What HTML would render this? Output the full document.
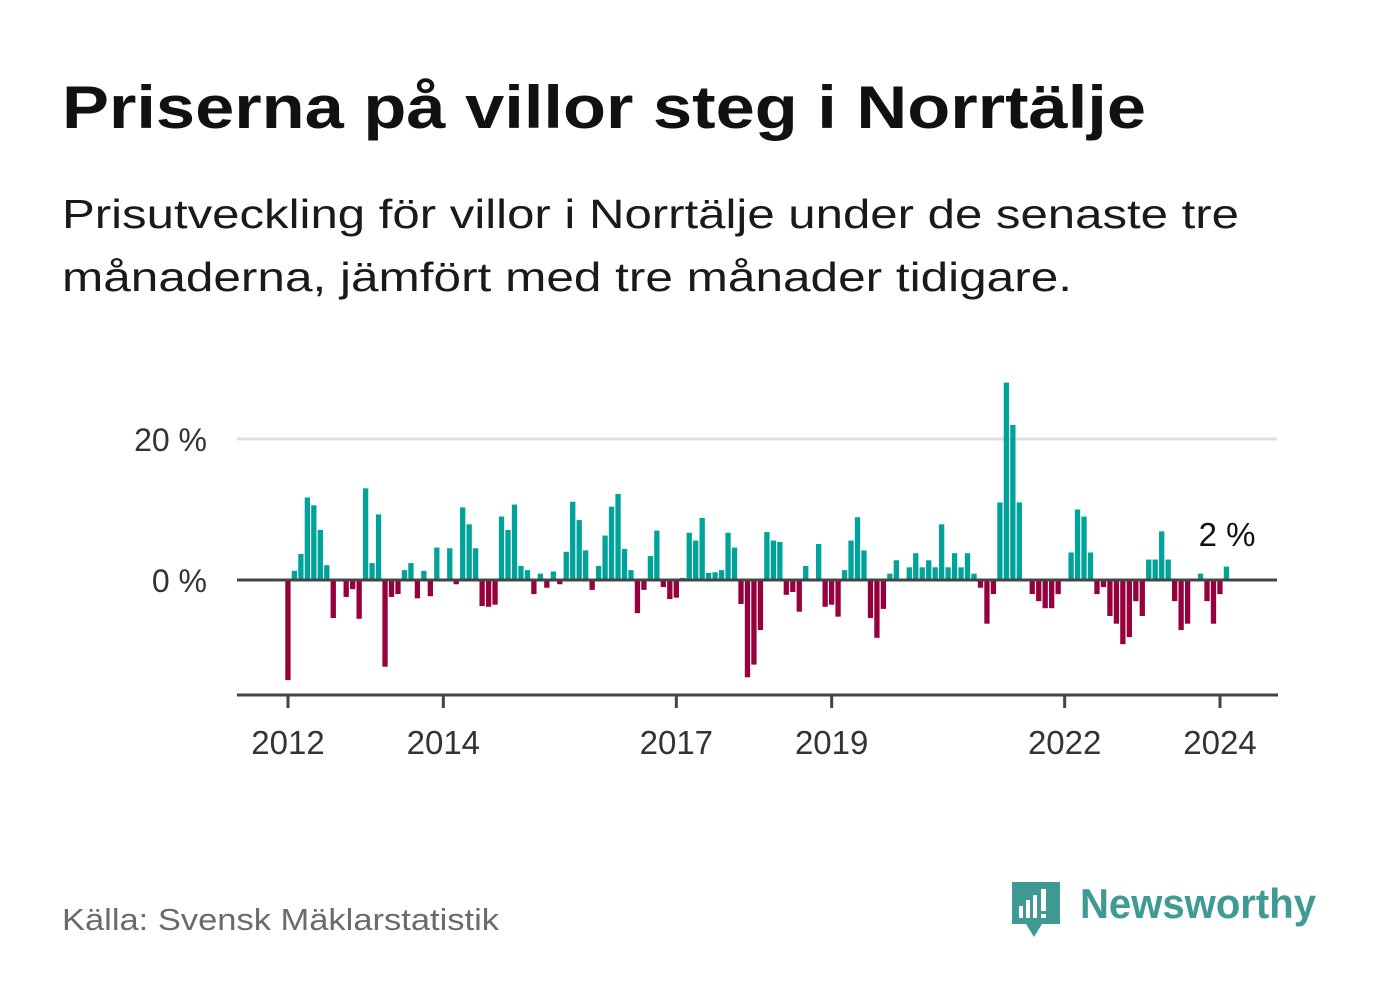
<!DOCTYPE html>
<html><head><meta charset="utf-8"><style>
body{margin:0;background:#fff;width:1382px;height:999px;overflow:hidden;font-family:"Liberation Sans",sans-serif}
</style></head><body>
<svg width="1382" height="999" viewBox="0 0 1382 999" xmlns="http://www.w3.org/2000/svg">
<text x="62" y="128" font-size="60" font-weight="bold" fill="#111" textLength="1084" lengthAdjust="spacingAndGlyphs">Priserna på villor steg i Norrtälje</text>
<text x="62" y="228" font-size="41" fill="#1a1a1a" textLength="1177" lengthAdjust="spacingAndGlyphs">Prisutveckling för villor i Norrtälje under de senaste tre</text>
<text x="62" y="291" font-size="41" fill="#1a1a1a" textLength="1010" lengthAdjust="spacingAndGlyphs">månaderna, jämfört med tre månader tidigare.</text>
<g id="plot"></g>
<text x="62" y="930" font-size="31" fill="#6b6b6b" textLength="437" lengthAdjust="spacingAndGlyphs">Källa: Svensk Mäklarstatistik</text>
<g>
<path d="M1012 882 h48 v42 h-18 l-8 13 l-8 -13 h-14 z" fill="#3e9a93"/>
<rect x="1019" y="906" width="4" height="12" fill="#fff"/><rect x="1026" y="900" width="4" height="18" fill="#fff"/><rect x="1033" y="895" width="4" height="23" fill="#fff"/><rect x="1041" y="889" width="5" height="22" fill="#fff"/><rect x="1041" y="914" width="5" height="4" fill="#fff"/>
<text x="1080" y="918" font-size="42" font-weight="bold" fill="#3e9a93" textLength="236" lengthAdjust="spacingAndGlyphs">Newsworthy</text>
</g>
</svg>
<script>
const values=[-14.2,1.3,3.7,11.7,10.6,7.1,2.1,-5.4,0,-2.4,-1.3,-5.5,13.0,2.4,9.3,-12.3,-2.4,-2.0,1.4,2.4,-2.6,1.3,-2.3,4.6,0,4.5,-0.6,10.3,7.9,4.5,-3.7,-3.8,-3.5,9.0,7.1,10.7,
2.0,1.4,-2.0,0.9,-1.1,1.2,-0.6,4.0,11.1,8.5,4.2,-1.4,2.0,6.3,10.4,12.2,4.4,1.4,-4.7,-1.4,3.4,7.0,-1.0,-2.7,-2.5,0.3,6.7,5.6,8.8,1.0,1.1,1.4,6.7,4.6,-3.4,-13.8,-12.0,
-7.1,6.8,5.6,5.4,-2.1,-1.7,-4.5,2.0,0,5.1,-3.8,-3.5,-5.2,1.4,5.6,8.9,4.2,-5.4,-8.2,-4.1,0.9,2.8,0,1.8,3.8,1.8,2.8,1.8,7.9,1.8,3.8,1.8,3.8,0.9,-1.1,-6.2,
-2.0,11.0,28.0,22.0,11.0,0,-2.0,-3.0,-4.0,-4.0,-2.0,0,3.9,10.0,9.0,3.9,-2.0,-1.0,-5.1,-6.2,-9.1,-8.1,-3.0,-5.1,2.9,2.9,6.9,2.9,-3.0,-7.1,-6.2,0,0.9,-3.0,-6.2,-2.0,1.9];
const startYear=2012;
const xTickYears=[2012,2014,2017,2019,2022,2024];
const yTicks=[0,20];
const yTickLabels=["0 %","20 %"];
const lastLabel="2 %";
const NS="http://www.w3.org/2000/svg";
const g=document.getElementById('plot');
const x0=288,pxPerMonth=(1220-288)/144;
const xScale=i=>x0+i*pxPerMonth;
const yScale=v=>580-v*7.05;
function mk(t,a){const e=document.createElementNS(NS,t);for(const k in a)e.setAttribute(k,a[k]);g.appendChild(e);return e;}
yTicks.forEach((t,k)=>{
 if(t!==0){const l=mk('line',{x1:237,x2:1277,y1:yScale(t),y2:yScale(t),stroke:'#dedede','stroke-width':3});
 
 }
 const tx=mk('text',{x:207,y:yScale(t)+12,'font-size':32,fill:'#333','text-anchor':'end'});
 tx.textContent=yTickLabels[k];
 
 
});
values.forEach((v,i)=>{
 const y=yScale(Math.max(v,0)),h=Math.abs(yScale(v)-yScale(0));
 const r=mk('rect',{x:xScale(i)-2.7,y:y,width:5.3,height:h,fill:v>=0?'#00a39a':'#96003c'});
 
 
});
const z=mk('line',{x1:237,x2:1277,y1:yScale(0),y2:yScale(0),stroke:'#444','stroke-width':3});


const ax=mk('line',{x1:237,x2:1278,y1:695,y2:695,stroke:'#444','stroke-width':3});


xTickYears.forEach(yr=>{
 const x=xScale((yr-startYear)*12);
 const t=mk('line',{x1:x,x2:x,y1:695,y2:708,stroke:'#444','stroke-width':3});
 
 
 const tx=mk('text',{x:x,y:754,'font-size':33,fill:'#333','text-anchor':'middle'});
 tx.textContent=yr;
 
 
});
const lb=mk('text',{x:1227,y:546,'font-size':33,fill:'#111','text-anchor':'middle'});
lb.textContent=lastLabel;


</script>
</body></html>
